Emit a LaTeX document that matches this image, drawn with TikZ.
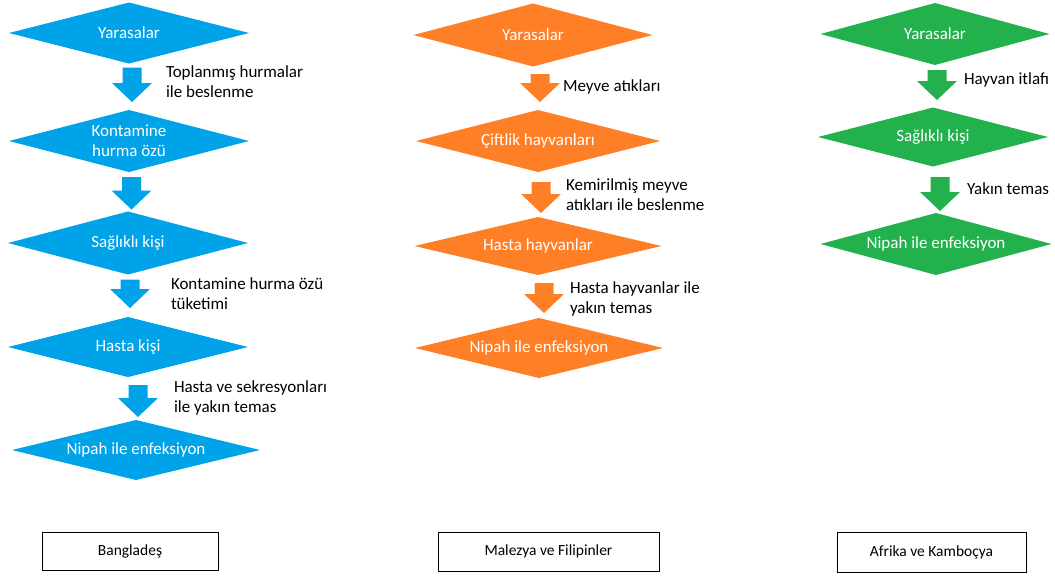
\documentclass[tikz,border=0pt]{standalone}
\usepackage{fontspec}
\setmainfont{Carlito}
\usetikzlibrary{shapes.geometric,calc}
\definecolor{batblue}{RGB}{0,162,232}
\definecolor{batorange}{RGB}{255,127,39}
\definecolor{batgreen}{RGB}{34,177,76}
\tikzset{
  state/.style={diamond, aspect=4, fill=#1, draw=none, text=white,
    minimum width=240pt, minimum height=61pt, inner sep=1pt, outer sep=0pt,
    align=center, font=\fontsize{17}{20}\selectfont},
  % block arrow drawn as a filled outline between the two end points
  flow/.style={every edge/.style={draw=none, fill=#1},
    to path={let \p1=(\tikztostart), \p2=(\tikztotarget) in
    (\x1-9.5pt,\y1) -- (\x1+9.5pt,\y1) -- (\x1+9.5pt,\y2+19pt) -- (\x1+20pt,\y2+19pt)
    -- (\x1,\y2) -- (\x1-20pt,\y2+19pt) -- (\x1-9.5pt,\y2+19pt) -- cycle
    (\x1,\y1) -- (\x1,\y2) \tikztonodes}},
  route/.style={anchor=west, inner sep=0pt, outer sep=0pt, align=left, text=black,
    font=\fontsize{17}{20}\selectfont},
  region/.style={draw=black, line width=1pt, minimum height=39pt,
    font=\fontsize{15.5}{18}\selectfont}
}

\begin{document}
\begin{tikzpicture}[x=1pt,y=-1pt]
  \useasboundingbox (0,0) rectangle (1055,576);
  % Bangladesh
  \node[state=batblue] (bat1) at (129,33) {Yarasalar};
  \node[state=batblue, minimum height=62pt] (palm) at (129,141) {Kontamine\\hurma özü};
  \node[state=batblue, minimum height=63pt] (healthy1) at (128,243) {Sağlıklı kişi};
  \node[state=batblue, minimum height=60pt] (sick1) at (128,347) {Hasta kişi};
  \node[state=batblue, minimum width=248pt, minimum height=60pt] (nipah1) at (136,450) {Nipah ile enfeksiyon};
  \path[flow=batblue]
    ([xshift=3pt,yshift=-4pt]bat1.south) edge
      node[route, xshift=34pt, yshift=3pt] {Toplanmış hurmalar\\ile beslenme}
      ([xshift=3pt,yshift=8pt]bat1.south |- palm.north)
    ([xshift=2.5pt,yshift=-5pt]palm.south) edge
      ([xshift=2.5pt,yshift=2pt]palm.south |- healthy1.north)
    ([xshift=2pt,yshift=-5pt]healthy1.south) edge
      node[route, xshift=41pt, yshift=0.5pt] {Kontamine hurma özü\\tüketimi}
      ([xshift=2pt,yshift=9pt]healthy1.south |- sick1.north)
    ([xshift=10pt,yshift=-8pt]sick1.south) edge
      node[route, xshift=36pt, yshift=3.5pt] {Hasta ve sekresyonları\\ile yakın temas}
      ([xshift=10pt,yshift=3pt]sick1.south |- nipah1.north);

  % Malaysia and Philippines
  \node[state=batorange, minimum width=239pt, minimum height=63pt] (bat2) at (533,35) {Yarasalar};
  \node[state=batorange, minimum width=244pt, minimum height=62pt] (farm) at (538,141) {Çiftlik hayvanları};
  \node[state=batorange, minimum width=247pt, minimum height=58pt] (sickanim) at (538,246) {Hasta hayvanlar};
  \node[state=batorange, minimum width=248pt, minimum height=60pt] (nipah2) at (539,348) {Nipah ile enfeksiyon};
  \path[flow=batorange]
    ([xshift=7pt,yshift=-7.5pt]bat2.south) edge
      node[route, xshift=23pt, yshift=1pt] {Meyve atıkları}
      ([xshift=7pt,yshift=8pt]bat2.south |- farm.north)
    ([xshift=3pt,yshift=-10pt]farm.south) edge
      node[route, xshift=25pt, yshift=2.5pt] {Kemirilmiş meyve\\atıkları ile beslenme}
      ([xshift=3pt,yshift=4pt]farm.south |- sickanim.north)
    ([xshift=6pt,yshift=-8pt]sickanim.south) edge
      node[route, xshift=26pt, yshift=-0.5pt] {Hasta hayvanlar ile\\yakın temas}
      ([xshift=6pt,yshift=5pt]sickanim.south |- nipah2.north);

  % Africa and Cambodia
  \node[state=batgreen, minimum width=229pt, minimum height=62pt] (bat3) at (935,34) {Yarasalar};
  \node[state=batgreen, minimum width=230pt, minimum height=59pt] (healthy3) at (933,137) {Sağlıklı kişi};
  \node[state=batgreen, minimum width=231pt, minimum height=62pt] (nipah3) at (936,244) {Nipah ile enfeksiyon};
  \path[flow=batgreen]
    ([xshift=2pt,yshift=-5pt]bat3.south) edge
      node[route, xshift=27pt, yshift=5pt] {Hayvan itlafı}
      ([xshift=2pt,yshift=7.5pt]bat3.south |- healthy3.north)
    ([xshift=7pt,yshift=-10.5pt]healthy3.south) edge
      node[route, xshift=27pt, yshift=5pt] {Yakın temas}
      ([xshift=7pt,yshift=2pt]healthy3.south |- nipah3.north);

  % region boxes
  \node[region, minimum width=176pt, minimum height=38pt] (bangladesh) at (130,551) {Bangladeş};
  \node[region, minimum width=221pt] (malaysia) at (548.5,551.5) {Malezya ve Filipinler};
  \node[region, minimum width=189pt, minimum height=40pt] (africa) at (931.5,552) {Afrika ve Kamboçya};
\end{tikzpicture}
\end{document}
